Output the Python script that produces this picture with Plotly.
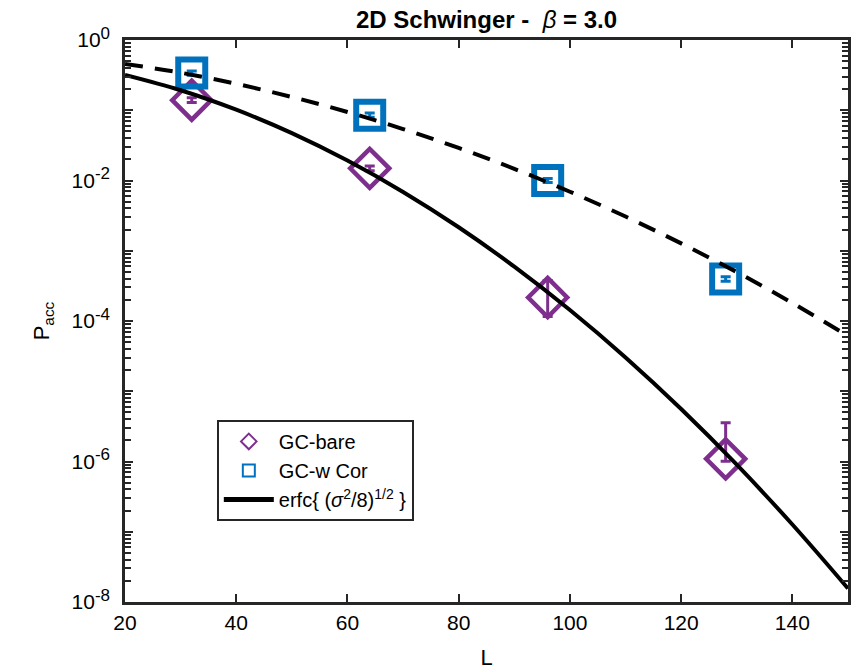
import plotly.graph_objects as go

# Lattice sizes L where the acceptance was measured
L_meas = [32, 64, 96, 128]

# GC-bare acceptance rate with asymmetric error bars
p_bare = [0.139, 0.0149, 2.16e-4, 1.09e-6]
p_bare_err_up = [0.012, 0.0012, 1.6e-4, 2.46e-6]
p_bare_err_dn = [0.010, 0.0011, 1.0e-4, 0.08e-6]

# GC with correction
p_cor = [0.338, 0.0851, 0.0100, 3.97e-4]
p_cor_err_up = [0.025, 0.006, 0.0007, 0.30e-4]
p_cor_err_dn = [0.023, 0.0055, 0.0006, 0.28e-4]

# erfc{(sigma^2/8)^(1/2)} predictions sampled along L
L_curve = [20, 30, 40, 50, 60, 70, 80, 90, 100, 110, 120, 130, 140, 150]
p_erfc_bare = [0.3185, 0.1927, 0.1018, 0.04717, 0.01921, 0.00688, 0.00216,
               5.94e-4, 1.434e-4, 3.03e-5, 5.59e-6, 9.01e-7, 1.268e-7, 1.558e-8]
p_erfc_cor = [0.4572, 0.3422, 0.2378, 0.1545, 0.0944, 0.0540, 0.02904,
              0.01465, 0.006923, 0.003068, 0.001272, 4.97e-4, 1.80e-4, 6.11e-5]

# Axis ticks
x_ticks = [20, 40, 60, 80, 100, 120, 140]
y_exponents = [0, -1, -2, -3, -4, -5, -6, -7, -8]
y_ticks = [10.0 ** e for e in y_exponents]
y_ticktext = [
    "10<sup><span style='font-size:17px'>%d</span></sup>" % e if e % 2 == 0 else ""
    for e in y_exponents
]
y_minor = [m * 10.0 ** e for e in range(-8, 0) for m in range(2, 10)]

PURPLE = "#7E2F8E"
BLUE = "#0072BD"
AXIS = "#262626"
FONT = "Liberation Sans, Arial, Helvetica, sans-serif"

fig = go.Figure()

fig.add_trace(go.Scatter(
    x=L_meas, y=p_bare, mode="markers", name="GC-bare",
    marker=dict(symbol="diamond-open", size=30, color=PURPLE,
                line=dict(width=4.5, color=PURPLE)),
    error_y=dict(type="data", symmetric=False, array=p_bare_err_up,
                 arrayminus=p_bare_err_dn, color=PURPLE, thickness=3, width=5),
))

fig.add_trace(go.Scatter(
    x=L_meas, y=p_cor, mode="markers", name="GC-w Cor",
    marker=dict(symbol="square-open", size=27, color=BLUE,
                line=dict(width=6, color=BLUE)),
    error_y=dict(type="data", symmetric=False, array=p_cor_err_up,
                 arrayminus=p_cor_err_dn, color=BLUE, thickness=3, width=5),
))

fig.add_trace(go.Scatter(
    x=L_curve, y=p_erfc_cor, mode="lines", showlegend=False,
    line=dict(color="black", width=4, dash="18px,12px", shape="spline"),
))

fig.add_trace(go.Scatter(
    x=L_curve, y=p_erfc_bare, mode="lines",
    name="erfc{ (<i>σ</i><sup>2</sup>/8)<sup>1/2</sup> }",
    line=dict(color="black", width=4, shape="spline"),
))

fig.update_layout(
    width=859, height=671, autosize=False,
    margin=dict(l=125, r=11, t=40, b=69),
    paper_bgcolor="white", plot_bgcolor="white",
    font=dict(family=FONT, size=21, color="black"),
    title=dict(text="<b>2D Schwinger -  </b><i>β</i><b> = 3.0</b>",
               x=0.5, xref="paper", xanchor="center",
               y=1 - 20 / 671, yanchor="middle",
               font=dict(family=FONT, size=24, color="black")),
    showlegend=True,
    legend=dict(x=0.127, y=0.324, xanchor="left", yanchor="top",
                bgcolor="white", bordercolor=AXIS, borderwidth=2,
                font=dict(family=FONT, size=20, color="black"),
                itemsizing="constant", itemwidth=50, tracegroupgap=0),
)

fig.update_xaxes(
    range=[20, 150], tickvals=x_ticks, ticks="inside", ticklen=8,
    tickwidth=2, tickcolor=AXIS, showline=True, linecolor=AXIS,
    linewidth=2.5, mirror="ticks", showgrid=False, zeroline=False,
    automargin=False,
    tickfont=dict(family=FONT, size=21, color="black"),
    title=dict(text="L", standoff=17,
               font=dict(family=FONT, size=22, color="black")),
)

fig.update_yaxes(
    type="log", range=[-8, 0], tickmode="array", tickvals=y_ticks,
    ticktext=y_ticktext, ticks="inside", ticklen=8, tickwidth=2,
    tickcolor=AXIS, showline=True, linecolor=AXIS, linewidth=2.5,
    mirror="ticks", showgrid=False, zeroline=False, ticklabelstandoff=8,
    automargin=False,
    minor=dict(tickmode="array", tickvals=y_minor, ticks="inside",
               ticklen=6, tickwidth=1.5, tickcolor=AXIS, showgrid=False),
    tickfont=dict(family=FONT, size=21, color="black"),
    title=dict(text="P<sub>acc</sub>", standoff=16,
               font=dict(family=FONT, size=22, color="black")),
)

fig.write_html("out.html")
